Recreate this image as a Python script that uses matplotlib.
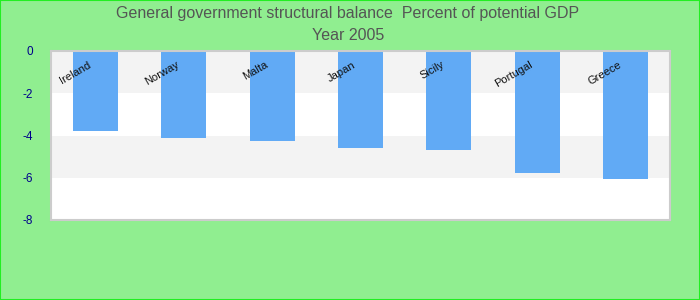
import matplotlib.pyplot as plt
from matplotlib.patches import Rectangle

plt.rcParams['font.family'] = ['Liberation Sans', 'DejaVu Sans']

countries = ["Ireland", "Norway", "Malta", "Japan", "Sicily", "Portugal", "Greece"]
balance = [-3.77, -4.1, -4.25, -4.58, -4.69, -5.77, -6.05]
yticks = [0, -2, -4, -6, -8]

fig = plt.figure(figsize=(7, 3), dpi=100, facecolor="#90ee90")
fig.patches.append(Rectangle((0, 0), 1, 1, transform=fig.transFigure, fill=False,
                             edgecolor="#22ee22", linewidth=1.5))
ax = fig.add_axes([51 / 700, 80 / 300, 619 / 700, 169 / 300])
ax.set_facecolor("white")

# alternating bands
for lo, hi in [(-2, 0), (-6, -4)]:
    ax.axhspan(lo, hi, color="#f3f3f3", zorder=0, linewidth=0)

x = range(len(countries))
ax.bar(x, balance, width=0.51, color="#61aaf5", zorder=2)

for i, name in enumerate(countries):
    ax.text(i - 0.06, -0.62, name, rotation=30, rotation_mode="anchor",
            ha="right", va="center", fontsize=8, color="#111111", zorder=3)

ax.set_xlim(-0.5, len(countries) - 0.5)
ax.set_ylim(-8, 0)
ax.set_xticks([])
ax.set_yticks(yticks)
ax.set_yticklabels([str(v) for v in yticks], color="#00008b", fontsize=8.5)
ax.tick_params(axis="y", length=0, pad=13)
for s in ax.spines.values():
    s.set_color("#cccccc")
    s.set_linewidth(1.5)

fig.text(0.497, 0.955, "General government structural balance  Percent of potential GDP",
         ha="center", va="center", fontsize=11.5, color="#555555")
fig.text(0.497, 0.88, "Year 2005", ha="center", va="center", fontsize=11.5, color="#555555")

fig.savefig("out.png", dpi=100, facecolor=fig.get_facecolor())
